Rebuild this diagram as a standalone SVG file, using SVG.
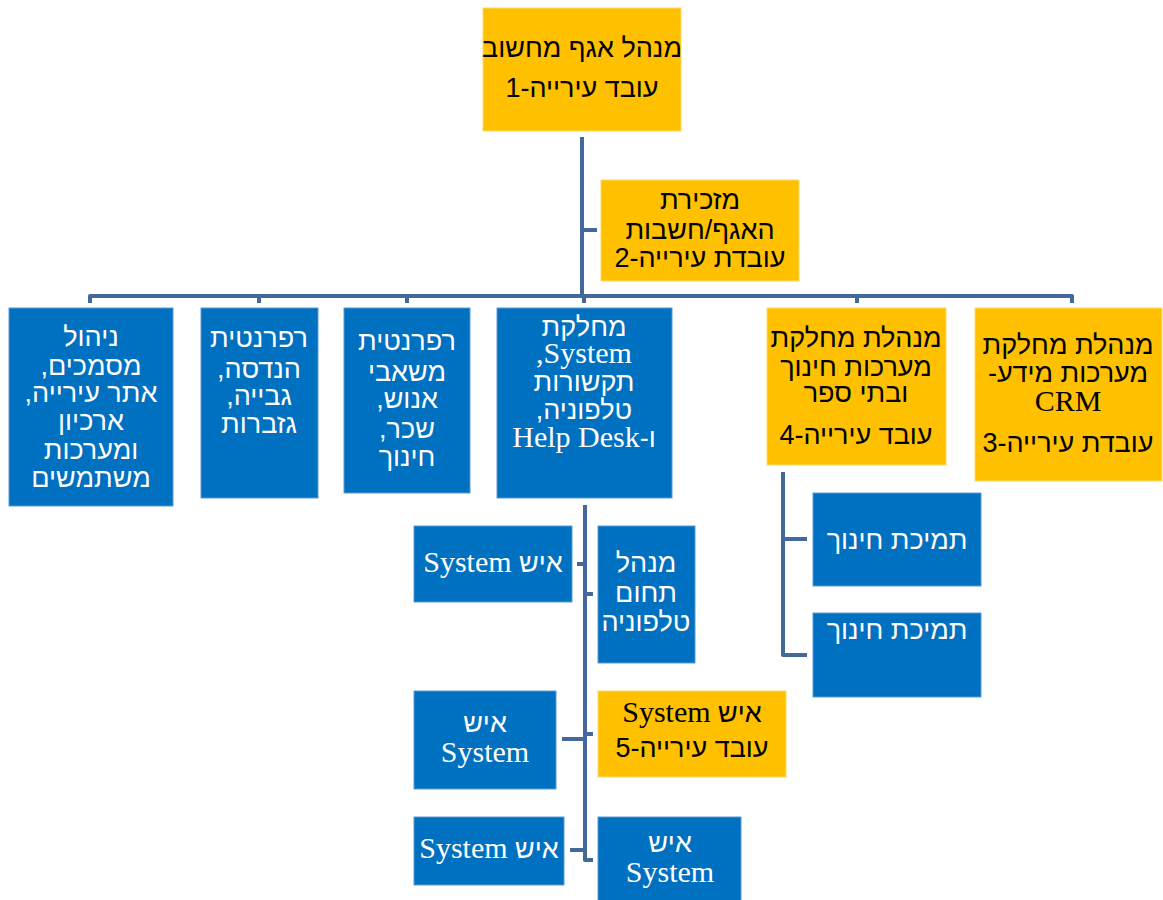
<svg xmlns="http://www.w3.org/2000/svg" width="1163" height="900" viewBox="0 0 1163 900">
<style>
.b{fill:#0070C0;stroke:#5B9BD5;stroke-width:1}
.y{fill:#FFC000;stroke:#FFD966;stroke-width:1}
.t{font-family:"Liberation Sans","DejaVu Sans",sans-serif;font-size:27px;text-anchor:middle;direction:rtl}
.w{fill:#FFFFFF}
.k{fill:#000000}
.en{font-family:"Liberation Serif","DejaVu Serif",serif;font-size:30px}
.c{fill:none;stroke:#44679C;stroke-width:4;stroke-linejoin:round;stroke-linecap:butt}
</style>
<rect width="1163" height="900" fill="#FFFFFF"/>
<g id="connectors">
<path class="c" d="M582 137 V297"/>
<path class="c" d="M582 230 H597"/>
<path class="c" d="M90 303 V296 H1072 V303"/>
<path class="c" d="M259 296 V303"/>
<path class="c" d="M407 296 V303"/>
<path class="c" d="M584 296 V303"/>
<path class="c" d="M857 296 V303"/>
<path class="c" d="M585 505 V860 H593"/>
<path class="c" d="M577 564 H585"/>
<path class="c" d="M585 594 H593"/>
<path class="c" d="M562 739 H585"/>
<path class="c" d="M585 734 H593"/>
<path class="c" d="M570 850 H585"/>
<path class="c" d="M783 472 V655 H807"/>
<path class="c" d="M783 539 H807"/>
</g>
<g id="n-top">
<rect class="y" x="483" y="8" width="198" height="123"/>
<text class="t k" x="582" y="57">מנהל אגף מחשוב</text>
<text class="t k" x="582" y="97">עובד עירייה-1</text>
</g>
<g id="n-secretary">
<rect class="y" x="601" y="180" width="198" height="101"/>
<text class="t k" x="700" y="209">מזכירת</text>
<text class="t k" x="700" y="239">האגף/חשבות</text>
<text class="t k" x="700" y="267">עובדת עירייה-2</text>
</g>
<g id="n-docs">
<rect class="b" x="9" y="308" width="164" height="198"/>
<text class="t w" x="91" y="346">ניהול</text>
<text class="t w" x="91" y="375">מסמכים,</text>
<text class="t w" x="91" y="402">אתר עירייה,</text>
<text class="t w" x="91" y="430">ארכיון</text>
<text class="t w" x="91" y="459">ומערכות</text>
<text class="t w" x="91" y="487">משתמשים</text>
</g>
<g id="n-eng">
<rect class="b" x="201" y="308" width="117" height="190"/>
<text class="t w" x="259" y="347">רפרנטית</text>
<text class="t w" x="259" y="378">הנדסה,</text>
<text class="t w" x="259" y="405">גבייה,</text>
<text class="t w" x="259" y="433">גזברות</text>
</g>
<g id="n-hr">
<rect class="b" x="344" y="308" width="126" height="185"/>
<text class="t w" x="407" y="350">רפרנטית</text>
<text class="t w" x="407" y="381">משאבי</text>
<text class="t w" x="407" y="408">אנוש,</text>
<text class="t w" x="407" y="438">שכר,</text>
<text class="t w" x="407" y="466">חינוך</text>
</g>
<g id="n-system">
<rect class="b" x="497" y="308" width="175" height="190"/>
<text class="t w" x="584" y="336">מחלקת</text>
<text class="t w" x="584" y="363"><tspan class="en">System,</tspan></text>
<text class="t w" x="584" y="391">תקשורות</text>
<text class="t w" x="584" y="419">טלפוניה,</text>
<text class="t w" x="584" y="447">ו-<tspan class="en">Help Desk</tspan></text>
</g>
<g id="n-edu">
<rect class="y" x="767" y="308" width="179" height="157"/>
<text class="t k" x="856" y="347">מנהלת מחלקת</text>
<text class="t k" x="856" y="376">מערכות חינוך</text>
<text class="t k" x="856" y="402">ובתי ספר</text>
<text class="t k" x="856" y="444">עובד עירייה-4</text>
</g>
<g id="n-crm">
<rect class="y" x="975" y="308" width="187" height="173"/>
<text class="t k" x="1068" y="354">מנהלת מחלקת</text>
<text class="t k" x="1068" y="382">מערכות מידע-</text>
<text class="t k" x="1068" y="411"><tspan class="en">CRM</tspan></text>
<text class="t k" x="1068" y="452">עובדת עירייה-3</text>
</g>
<g id="n-edu-sup1">
<rect class="b" x="813" y="493" width="168" height="93"/>
<text class="t w" x="897" y="549">תמיכת חינוך</text>
</g>
<g id="n-edu-sup2">
<rect class="b" x="813" y="613" width="168" height="84"/>
<text class="t w" x="897" y="639">תמיכת חינוך</text>
</g>
<g id="n-sys1">
<rect class="b" x="414" y="526" width="158" height="76"/>
<text class="t w" x="493" y="572">איש <tspan class="en">System</tspan></text>
</g>
<g id="n-tel">
<rect class="b" x="598" y="526" width="97" height="137"/>
<text class="t w" x="646" y="572">מנהל</text>
<text class="t w" x="646" y="602">תחום</text>
<text class="t w" x="646" y="631">טלפוניה</text>
</g>
<g id="n-sys2">
<rect class="b" x="414" y="691" width="142" height="98"/>
<text class="t w" x="485" y="732">איש</text>
<text class="t w" x="485" y="762"><tspan class="en">System</tspan></text>
</g>
<g id="n-sys5">
<rect class="y" x="598" y="691" width="188" height="86"/>
<text class="t k" x="692" y="722">איש <tspan class="en">System</tspan></text>
<text class="t k" x="692" y="757">עובד עירייה-5</text>
</g>
<g id="n-sys3">
<rect class="b" x="414" y="817" width="150" height="68"/>
<text class="t w" x="489" y="858">איש <tspan class="en">System</tspan></text>
</g>
<g id="n-sys4">
<rect class="b" x="598" y="817" width="143" height="90"/>
<text class="t w" x="670" y="852">איש</text>
<text class="t w" x="670" y="882"><tspan class="en">System</tspan></text>
</g>
</svg>
